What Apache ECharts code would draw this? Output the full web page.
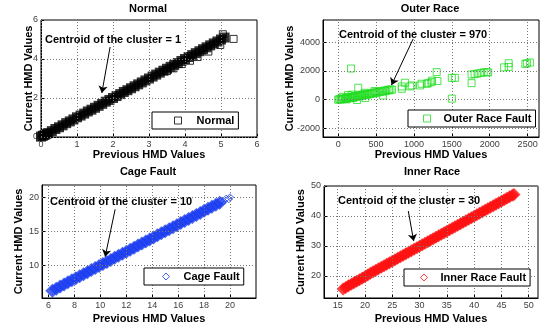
<!DOCTYPE html>
<html>
<head>
<meta charset="utf-8">
<script src="https://cdn.jsdelivr.net/npm/echarts@6/dist/echarts.min.js"></script>
<style>
  html, body { margin: 0; padding: 0; background: #fff; }
  #chart { width: 542px; height: 333px; }
</style>
</head>
<body>
<div id="chart"></div>
<script>
// --- datos ---
const normalBand = [[0,0.02],[0.05,0.06],[0.1,0.1],[0.15,0.16],[0.2,0.2],[0.3,0.3],[0.4,0.41],[0.5,0.5],[0.6,0.6],[0.7,0.71],[0.8,0.8],[0.9,0.9],[1.0,1.01],[1.1,1.1],[1.2,1.2],[1.3,1.31],[1.4,1.4],[1.5,1.5],[1.6,1.6],[1.7,1.7],[1.8,1.81],[1.9,1.9],[2.0,2.0],[2.1,2.1],[2.2,2.2],[2.3,2.31],[2.4,2.4],[2.5,2.5],[2.6,2.6],[2.7,2.7],[2.8,2.8],[2.9,2.9],[3.0,3.0],[3.1,3.1],[3.2,3.2],[3.3,3.3],[3.4,3.4],[3.5,3.5],[3.6,3.6],[3.7,3.7],[3.8,3.79],[3.9,3.9],[4.0,4.0],[4.1,4.1],[4.2,4.2],[4.3,4.3],[4.4,4.4],[4.5,4.5],[4.6,4.6],[4.7,4.7],[4.8,4.8],[4.9,4.9],[5.0,5.0],[5.1,5.1]];
const normalOut = [[5.05,5.27],[5.35,5.03],[4.98,4.72],[4.65,4.38],[4.35,4.1],[4.14,3.91],[3.91,3.74],[3.68,3.52],[3.5,3.38]];

const outerBand = [[0,0],[15,40],[30,10],[40,60],[55,30],[70,90],[85,50],[100,120],[110,20],[120,80],[135,150],[150,100],[160,190],[175,140],[190,220],[200,120],[210,180],[225,260],[240,200],[255,280],[270,230],[285,310],[300,260],[315,340],[330,300],[345,370],[360,320],[375,400],[390,350],[410,430],[430,390],[450,470],[470,430],[490,520],[510,480],[530,560],[550,520],[570,600],[590,560],[610,640],[630,600],[650,680],[670,640],[690,720],[710,690],[60,200],[130,320],[250,-20],[360,120],[480,600],[590,290],[350,480],[180,350]];
const outerOut = [[170,2170],[265,830],[840,920],[840,760],[880,1180],[950,920],[970,990],[1080,990],[1100,1110],[1170,1110],[1190,1150],[1230,1220],[1240,1330],[1300,1920],[1310,1300],[1500,1520],[1540,1520],[1500,70],[1760,1150],[1760,1750],[1800,1780],[1840,1820],[1880,1860],[1920,1900],[1960,1920],[1980,1900],[2190,2250],[2250,2540],[2250,2280],[2470,2490],[2490,2540],[2530,2590]];

const cageBand = [[6.3,6.25],[6.6,6.55],[6.9,6.9],[7.2,7.2],[7.5,7.5],[7.8,7.8],[8.1,8.1],[8.4,8.4],[8.7,8.7],[9.0,9.0],[9.3,9.3],[9.6,9.6],[9.9,9.9],[10.2,10.2],[10.5,10.5],[10.8,10.8],[11.1,11.1],[11.4,11.4],[11.7,11.7],[12.0,12.0],[12.3,12.3],[12.6,12.6],[12.9,12.9],[13.2,13.2],[13.5,13.5],[13.8,13.8],[14.1,14.1],[14.4,14.4],[14.7,14.7],[15.0,15.0],[15.3,15.3],[15.6,15.6],[15.9,15.9],[16.2,16.2],[16.5,16.5],[16.8,16.8],[17.1,17.1],[17.4,17.4],[17.7,17.7],[18.0,18.0],[18.3,18.3],[18.6,18.6],[18.9,18.9],[19.2,19.2]];
const cageOut = [[19.1,19.0],[19.3,19.5],[19.5,19.4],[19.7,19.8],[19.9,19.7],[20.0,20.0]];

const innerBand = [[16.0,15.6],[16.5,16.1],[17.0,16.7],[17.5,17.2],[18.0,17.7],[18.5,18.2],[19.0,18.7],[19.5,19.2],[20.0,19.7],[20.5,20.3],[21.0,20.9],[21.5,21.4],[22.0,21.9],[22.5,22.4],[23.0,22.9],[23.5,23.4],[24.0,23.9],[24.5,24.4],[25.0,24.9],[25.5,25.4],[26.0,25.9],[26.5,26.4],[27.0,26.9],[27.5,27.4],[28.0,27.9],[28.5,28.4],[29.0,28.9],[29.5,29.4],[30.0,29.9],[30.5,30.4],[31.0,30.9],[31.5,31.4],[32.0,31.9],[32.5,32.4],[33.0,32.9],[33.5,33.4],[34.0,33.9],[34.5,34.4],[35.0,34.9],[35.5,35.4],[36.0,35.9],[36.5,36.4],[37.0,36.9],[37.5,37.4],[38.0,37.9],[38.5,38.4],[39.0,38.9],[39.5,39.4],[40.0,39.9],[40.5,40.4],[41.0,40.9],[41.5,41.4],[42.0,41.9],[42.5,42.4],[43.0,42.9],[43.5,43.4],[44.0,43.9],[44.5,44.4],[45.0,44.9],[45.5,45.4],[46.0,45.9],[46.5,46.4],[47.0,46.9],[47.3,47.2]];
const innerOut = [[17.0,17.4],[18.3,18.6],[19.6,20.0],[20.6,20.9]];

// ticks de cada eje
const ticksNormalX = [0,1,2,3,4,5,6];
const ticksNormalY = [0,2,4,6];
const ticksOuterX = [0,500,1000,1500,2000,2500];
const ticksOuterY = [-2000,0,2000,4000];
const ticksCageX = [6,8,10,12,14,16,18,20];
const ticksCageY = [10,15,20];
const ticksInnerX = [15,20,25,30,35,40,45,50];
const ticksInnerY = [20,30,40,50];

// flechas "centroid"
const arrowNormal = [[1.92,4.62],[1.69,2.26]];
const arrowOuter = [[989,4230],[704,1018]];
const arrowCage = [[11.14,18.23],[10.37,11.27]];
const arrowInner = [[27.94,41.65],[28.93,31.6]];

const FONT = "'Liberation Sans', Arial, sans-serif";

const chart = echarts.init(document.getElementById('chart'));

function axis(gi, min, max, ticks, name, gap) {
  return {
    type: 'value', gridIndex: gi, min: min, max: max,
    name: name, nameLocation: 'middle', nameGap: gap, nameMoveOverlap: false,
    nameTextStyle: { fontFamily: FONT, fontSize: 11, fontWeight: 'bold', color: '#000' },
    axisLine: { show: true, onZero: false, lineStyle: { color: '#000', width: 1 } },
    axisTick: { show: true, inside: true, length: 3, customValues: ticks, lineStyle: { color: '#000' } },
    axisLabel: { customValues: ticks, formatter: v => String(v), fontFamily: FONT, fontSize: 9, color: '#404040', margin: 3 },
    splitLine: { show: false }
  };
}

// lineas de la rejilla punteada (en los ticks)
function gridLines(gi, xt, yt) {
  return {
    type: 'scatter', xAxisIndex: gi, yAxisIndex: gi, data: [], silent: true, z: 0,
    markLine: {
      silent: true, symbol: 'none', label: { show: false },
      lineStyle: { color: '#777', width: 1, type: [1, 2] },
      data: xt.map(v => ({ xAxis: v })).concat(yt.map(v => ({ yAxis: v })))
    }
  };
}

function arrow(pts) {
  return {
    silent: true, symbol: ['none', 'arrow'], symbolSize: 7,
    label: { show: false },
    lineStyle: { color: '#000', width: 1, type: 'solid' },
    data: [[{ coord: pts[0] }, { coord: pts[1] }]]
  };
}

function legend(left, top, name, icon, color, padL, txtPad) {
  return {
    left: left, top: top, orient: 'vertical', z: 20,
    backgroundColor: '#fff', borderColor: '#000', borderWidth: 1,
    padding: [3, 4, 3, padL], itemWidth: 7, itemHeight: 7,
    selectedMode: false,
    textStyle: { fontFamily: FONT, fontSize: 11, fontWeight: 'bold', color: '#000', padding: [0, 0, 0, txtPad] },
    data: [{ name: name, icon: icon, itemStyle: { color: '#fff', borderColor: color, borderWidth: 1 } }]
  };
}

const texts = [
  ['Normal', 148, 9, 'center'], ['Outer Race', 430, 9, 'center'],
  ['Cage Fault', 148, 172, 'center'], ['Inner Race', 432, 172, 'center'],
  ['Centroid of the cluster = 1', 45, 40, 'left'],
  ['Centroid of the cluster = 970', 339, 35, 'left'],
  ['Centroid of the cluster = 10', 50, 202, 'left'],
  ['Centroid of the cluster = 30', 338, 201, 'left']
];

const option = {
  animation: false,
  backgroundColor: '#fff',
  grid: [
    { left: 41, top: 20, width: 216, height: 117, show: true, borderColor: '#000', borderWidth: 1 },
    { left: 323, top: 20, width: 216, height: 117, show: true, borderColor: '#000', borderWidth: 1 },
    { left: 42, top: 185, width: 214, height: 113, show: true, borderColor: '#000', borderWidth: 1 },
    { left: 324, top: 186, width: 214, height: 112, show: true, borderColor: '#000', borderWidth: 1 }
  ],
  xAxis: [
    axis(0, 0, 6, ticksNormalX, 'Previous HMD Values', 12),
    axis(1, -200, 2650, ticksOuterX, 'Previous HMD Values', 12),
    axis(2, 5.5, 22, ticksCageX, 'Previous HMD Values', 15),
    axis(3, 12.5, 51.7, ticksInnerX, 'Previous HMD Values', 15)
  ],
  yAxis: [
    axis(0, 0, 6, ticksNormalY, 'Current HMD Values', 7),
    axis(1, -2600, 5550, ticksOuterY, 'Current HMD Values', 28),
    axis(2, 5.2, 21.8, ticksCageY, 'Current HMD Values', 18),
    axis(3, 12.6, 50, ticksInnerY, 'Current HMD Values', 18)
  ],
  legend: [
    legend(152, 112, 'Normal', 'rect', '#000', 22, 10),
    legend(408, 110, 'Outer Race Fault', 'rect', '#22dd22', 15, 8),
    legend(144, 268, 'Cage Fault', 'diamond', '#1a3cf0', 18, 9),
    legend(404, 269, 'Inner Race Fault', 'diamond', '#ff1010', 16, 8)
  ],
  graphic: texts.map(t => ({
    type: 'text', x: t[1], y: t[2], z: 100,
    style: { text: t[0], fill: '#000', font: 'bold 11px ' + FONT, textAlign: t[3], textVerticalAlign: 'middle' }
  })),
  series: [
    gridLines(0, ticksNormalX, ticksNormalY),
    gridLines(1, ticksOuterX, ticksOuterY),
    gridLines(2, ticksCageX, ticksCageY),
    gridLines(3, ticksInnerX, ticksInnerY),
    { name: 'Normal', type: 'scatter', xAxisIndex: 0, yAxisIndex: 0, symbol: 'rect', symbolSize: 10, z: 3,
      itemStyle: { color: '#000' }, data: normalBand },
    { name: 'Normal', type: 'scatter', xAxisIndex: 0, yAxisIndex: 0, symbol: 'rect', symbolSize: 7, z: 3,
      itemStyle: { color: 'rgba(0,0,0,0)', borderColor: '#000', borderWidth: 1 }, data: normalOut,
      markLine: arrow(arrowNormal) },
    { name: 'Outer Race Fault', type: 'scatter', xAxisIndex: 1, yAxisIndex: 1, symbol: 'rect', symbolSize: 7, z: 3,
      itemStyle: { color: 'rgba(0,0,0,0)', borderColor: '#22dd22', borderWidth: 1 }, data: outerBand },
    { name: 'Outer Race Fault', type: 'scatter', xAxisIndex: 1, yAxisIndex: 1, symbol: 'rect', symbolSize: 7, z: 3,
      itemStyle: { color: 'rgba(0,0,0,0)', borderColor: '#22dd22', borderWidth: 1 }, data: outerOut,
      markLine: arrow(arrowOuter) },
    { name: 'Cage Fault', type: 'scatter', xAxisIndex: 2, yAxisIndex: 2, symbol: 'diamond', symbolSize: 14, z: 3,
      itemStyle: { color: '#1a3cf0' }, data: cageBand },
    { name: 'Cage Fault', type: 'scatter', xAxisIndex: 2, yAxisIndex: 2, symbol: 'diamond', symbolSize: 7, z: 3,
      itemStyle: { color: 'rgba(0,0,0,0)', borderColor: '#1a3cf0', borderWidth: 1 }, data: cageOut,
      markLine: arrow(arrowCage) },
    { name: 'Inner Race Fault', type: 'scatter', xAxisIndex: 3, yAxisIndex: 3, symbol: 'diamond', symbolSize: 13, z: 3,
      itemStyle: { color: '#ff1010' }, data: innerBand },
    { name: 'Inner Race Fault', type: 'scatter', xAxisIndex: 3, yAxisIndex: 3, symbol: 'diamond', symbolSize: 7, z: 3,
      itemStyle: { color: 'rgba(0,0,0,0)', borderColor: '#ff1010', borderWidth: 1 }, data: innerOut,
      markLine: arrow(arrowInner) }
  ]
};

chart.setOption(option);
</script>
</body>
</html>
